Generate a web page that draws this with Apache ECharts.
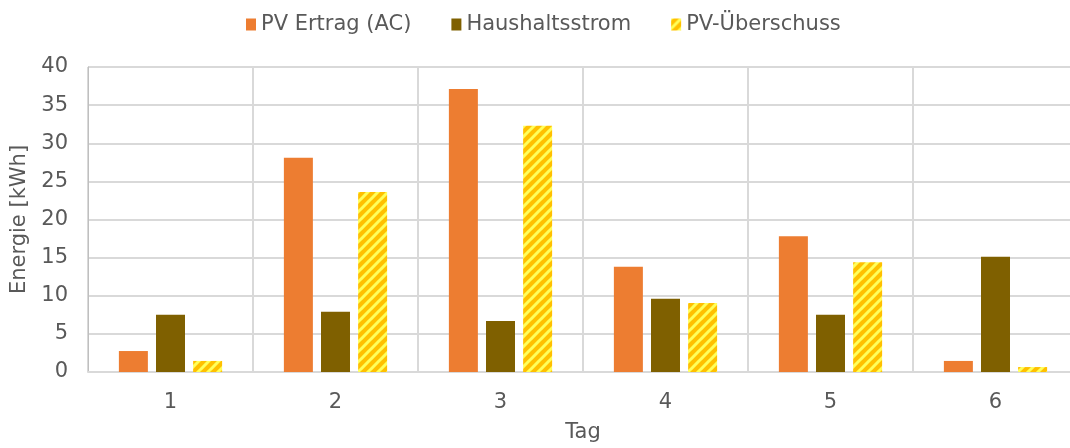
<!DOCTYPE html>
<html>
<head>
<meta charset="utf-8">
<script src="https://cdn.jsdelivr.net/npm/echarts@6/dist/echarts.min.js"></script>
<style>
  html, body { margin: 0; padding: 0; background: #fff; overflow: hidden; }
  #chart { width: 1078px; height: 448px; }
</style>
</head>
<body>
<div id="chart"></div>
<script>
// Daten
const tage = ['1', '2', '3', '4', '5', '6']
const pvErtrag = [2.75, 28.1, 37.1, 13.8, 17.8, 1.45]
const haushalt = [7.5, 7.9, 6.7, 9.6, 7.5, 15.1]
const ueberschuss = [1.45, 23.6, 32.3, 9.05, 14.4, 0.65]

const textColor = '#595959'
const fontFamily = "'DejaVu Sans', Verdana, sans-serif"
const fontSize = 21

// Schraffur fuer PV-Ueberschuss
function makeStripes() {
  const size = 10
  const c = document.createElement('canvas')
  c.width = size
  c.height = size
  const ctx = c.getContext('2d')
  ctx.fillStyle = '#FFC000'
  ctx.fillRect(0, 0, size, size)
  ctx.strokeStyle = '#FFFF5A'
  ctx.lineWidth = 3
  ctx.beginPath()
  for (let k = -1; k <= 1; k++) {
    ctx.moveTo(k * size - 1, size + 1)
    ctx.lineTo(k * size + size + 1, -1)
  }
  ctx.stroke()
  return c
}

const chart = echarts.init(document.getElementById('chart'))

const option = {
  animation: false,
  textStyle: { fontFamily },
  legend: {
    top: 9,
    left: 241,
    itemWidth: 10,
    itemHeight: 12,
    itemGap: 40,
    icon: 'rect',
    textStyle: { color: textColor, fontSize, fontFamily },
    data: ['PV Ertrag (AC)', 'Haushaltsstrom', 'PV-Überschuss']
  },
  grid: {
    left: 88,
    right: 0,
    top: 67,
    bottom: 76
  },
  xAxis: {
    type: 'category',
    data: tage,
    name: 'Tag',
    nameLocation: 'middle',
    nameGap: 50,
    nameTextStyle: { color: textColor, fontSize, fontFamily },
    axisLine: { lineStyle: { color: '#d9d9d9', width: 2 } },
    axisTick: { show: false },
    axisLabel: { color: textColor, fontSize, fontFamily, margin: 20 },
    splitLine: { show: true, lineStyle: { color: '#d9d9d9', width: 2 } }
  },
  yAxis: {
    type: 'value',
    min: 0,
    max: 40,
    interval: 5,
    name: 'Energie [kWh]',
    nameLocation: 'middle',
    nameGap: 52,
    nameTextStyle: { color: textColor, fontSize, fontFamily },
    axisLine: { show: true, lineStyle: { color: '#bfbfbf', width: 1 } },
    axisTick: { show: false },
    axisLabel: { color: textColor, fontSize, fontFamily, margin: 20 },
    splitLine: { lineStyle: { color: '#d9d9d9', width: 2 } }
  },
  series: [
    {
      name: 'PV Ertrag (AC)',
      type: 'bar',
      data: pvErtrag,
      barWidth: 29,
      barGap: '28%',
      itemStyle: { color: '#ED7D31' }
    },
    {
      name: 'Haushaltsstrom',
      type: 'bar',
      data: haushalt,
      barWidth: 29,
      barGap: '28%',
      itemStyle: { color: '#7F6000' }
    },
    {
      name: 'PV-Überschuss',
      type: 'bar',
      data: ueberschuss,
      barWidth: 29,
      barGap: '28%',
      itemStyle: { color: { image: makeStripes(), repeat: 'repeat' } }
    }
  ]
}

chart.setOption(option)
</script>
</body>
</html>
